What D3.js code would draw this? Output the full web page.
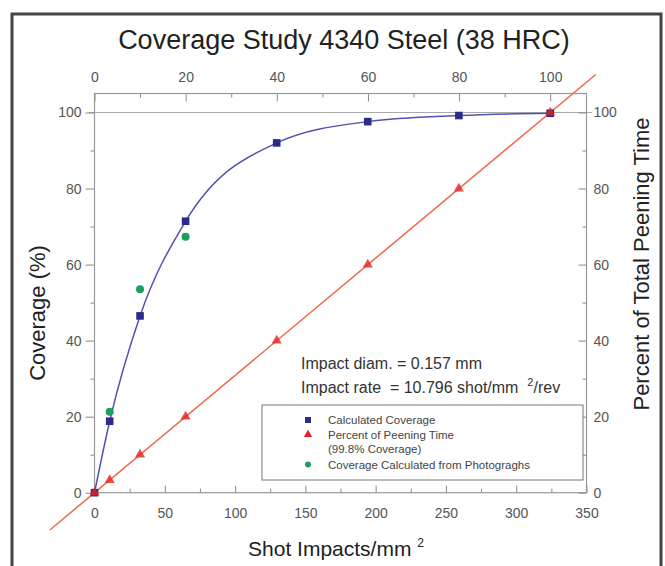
<!DOCTYPE html>
<html>
<head>
<meta charset="utf-8">
<script src="https://cdn.jsdelivr.net/npm/d3@7"></script>
<style>
  body { margin: 0; background: #fff; }
  svg { display: block; font-family: "Liberation Sans", Arial, sans-serif; }
  .tick text { fill: #555; font-size: 14px; }
  .tick line { stroke: #888; }
</style>
</head>
<body>
<svg id="chart" width="665" height="566"></svg>
<script>
// shot impacts per mm^2 at each sampled time
const shots = [0, 10.8, 32.4, 64.8, 129.6, 194.4, 259.2, 324.2];
const calcCoverage = [0, 18.8, 46.5, 71.4, 92.0, 97.6, 99.2, 99.8];
const peeningTime = [0, 3.3, 10, 20, 40, 60, 80, 100];
// coverage measured from photographs
const photoShots = [10.8, 32.4, 64.8];
const photoCoverage = [21.3, 53.5, 67.3];
// extent of the peening time line (percent of total)
const timeLineExtent = [-9.8, 110];

const xTicks = [0, 50, 100, 150, 200, 250, 300, 350];
const xMinor = [25, 75, 125, 175, 225, 275, 325];
const yTicks = [0, 20, 40, 60, 80, 100];
const yMinor = [10, 30, 50, 70, 90];
const topTicks = [0, 20, 40, 60, 80, 100];
const topMinor = [10, 30, 50, 70, 90];

const legendItems = ["Calculated Coverage", "Percent of Peening Time", "(99.8% Coverage)", "Coverage Calculated from Photograghs"];

const svg = d3.select("#chart");
const pLeft = 94.5, pRight = 586.5, pTop = 93.5, pBottom = 492.7;

let x = d3.scaleLinear().domain([0, 350]).range([pLeft, pRight]);
let y = d3.scaleLinear().domain([0, 100]).range([pBottom, 112.5]);
// time axes: 100% time = last shot count
let xTop = d3.scaleLinear().domain([0, 100]).range([x(0), x(shots[shots.length - 1])]);
let yRight = d3.scaleLinear().domain([0, 100]).range([pBottom, 112.5]);

// outer border
svg.append("rect")
  .attr("x", 12).attr("y", 14)
  .attr("width", 649).attr("height", 600)
  .attr("fill", "none")
  .attr("stroke", "#444")
  .attr("stroke-width", 3);

// title
svg.append("text")
  .attr("x", 344).attr("y", 49)
  .attr("text-anchor", "middle")
  .style("font-size", "27px")
  .style("fill", "#222")
  .text("Coverage Study 4340 Steel (38 HRC)");

// 100% reference line
svg.append("line")
  .attr("x1", 89).attr("x2", 592)
  .attr("y1", y(100)).attr("y2", y(100))
  .attr("stroke", "#aaa")
  .attr("stroke-width", 1.2);

// axes
function axis(gen, tx, ty) {
  let g = svg.append("g").attr("transform", `translate(${tx},${ty})`).call(gen);
  g.select(".domain").remove();
  return g;
}
axis(d3.axisBottom(x).tickValues(xTicks).tickSizeInner(-7).tickSizeOuter(0).tickPadding(15), 0, pBottom);
axis(d3.axisBottom(x).tickValues(xMinor).tickSizeInner(-4).tickSizeOuter(0).tickFormat(""), 0, pBottom);
axis(d3.axisLeft(y).tickValues(yTicks).tickSize(9).tickPadding(4), pLeft, 0);
axis(d3.axisLeft(y).tickValues(yMinor).tickSize(4).tickFormat(""), pLeft, 0);
axis(d3.axisRight(yRight).tickValues(yTicks).tickSizeInner(-8).tickSizeOuter(0).tickPadding(7), pRight, 0);
axis(d3.axisRight(yRight).tickValues(yMinor).tickSizeInner(-4).tickSizeOuter(0).tickFormat(""), pRight, 0);
axis(d3.axisTop(xTop).tickValues(topTicks).tickSizeInner(-8).tickSizeOuter(0).tickPadding(12), 0, pTop);
axis(d3.axisTop(xTop).tickValues(topMinor).tickSizeInner(-4).tickSizeOuter(0).tickFormat(""), 0, pTop);

// plot frame
svg.append("rect")
  .attr("x", pLeft).attr("y", pTop)
  .attr("width", pRight - pLeft).attr("height", pBottom - pTop)
  .attr("fill", "none")
  .attr("stroke", "#999")
  .attr("stroke-width", 1.2);

// axis titles
svg.append("text")
  .attr("transform", "translate(45,313) rotate(-90)")
  .attr("text-anchor", "middle")
  .style("font-size", "22px").style("fill", "#222")
  .text("Coverage (%)");

svg.append("text")
  .attr("transform", "translate(649,264) rotate(-90)")
  .attr("text-anchor", "middle")
  .style("font-size", "22px").style("fill", "#222")
  .text("Percent of Total Peening Time");

let xl = svg.append("text")
  .attr("x", 336).attr("y", 556)
  .attr("text-anchor", "middle")
  .style("font-size", "21px").style("fill", "#222");
xl.append("tspan").text("Shot Impacts/mm ");
xl.append("tspan").attr("dy", -9).style("font-size", "12px").text("2");

// peening time line
svg.append("line")
  .attr("x1", xTop(timeLineExtent[0])).attr("y1", yRight(timeLineExtent[0]))
  .attr("x2", xTop(timeLineExtent[1])).attr("y2", yRight(timeLineExtent[1]))
  .attr("stroke", "#ec6a48")
  .attr("stroke-width", 1.5);

// coverage curve
let covData = shots.map((s, i) => [s, calcCoverage[i]]);
svg.append("path")
  .datum(covData)
  .attr("d", d3.line().x(d => x(d[0])).y(d => y(d[1])).curve(d3.curveMonotoneX))
  .attr("fill", "none")
  .attr("stroke", "#5252b0")
  .attr("stroke-width", 1.5);

// markers
svg.selectAll("circle.photo")
  .data(photoShots)
  .enter()
  .append("circle")
  .attr("cx", d => x(d))
  .attr("cy", (d, i) => y(photoCoverage[i]))
  .attr("r", 4)
  .style("fill", "#1f9e5e");

svg.selectAll("rect.calc")
  .data(covData)
  .enter()
  .append("rect")
  .attr("x", d => x(d[0]) - 3.8)
  .attr("y", d => y(d[1]) - 3.8)
  .attr("width", 7.6).attr("height", 7.6)
  .style("fill", "#2b2b8c");

let tri = d3.symbol().type(d3.symbolTriangle).size(44);
svg.selectAll("path.time")
  .data(peeningTime)
  .enter()
  .append("path")
  .attr("d", tri)
  .attr("transform", (d, i) => `translate(${x(shots[i])},${yRight(d)})`)
  .style("fill", "#e32222")
  .style("opacity", 0.8);

// annotations
svg.append("text")
  .attr("x", 301).attr("y", 369)
  .style("font-size", "16px").style("fill", "#333")
  .text("Impact diam. = 0.157 mm");
let rate = svg.append("text")
  .attr("x", 301).attr("y", 393)
  .style("font-size", "16px").style("fill", "#333")
  .attr("xml:space", "preserve");
rate.append("tspan").text("Impact rate  = 10.796 shot/mm  ");
rate.append("tspan").attr("dy", -7).style("font-size", "11px").text("2");
rate.append("tspan").attr("dy", 7).text("/rev");

// legend
let lg = svg.append("g");
lg.append("rect")
  .attr("x", 262).attr("y", 405)
  .attr("width", 321).attr("height", 75)
  .attr("fill", "#fff")
  .attr("stroke", "#777");
let rowsY = [420, 434.5, 449, 464.5];
lg.selectAll("text")
  .data(legendItems)
  .enter()
  .append("text")
  .attr("x", 328)
  .attr("y", (d, i) => rowsY[i] + 4)
  .style("font-size", "11.5px").style("fill", "#444")
  .text(d => d);
lg.append("rect").attr("x", 305).attr("y", rowsY[0] - 3).attr("width", 6).attr("height", 6).style("fill", "#2b2b8c");
lg.append("path").attr("d", d3.symbol().type(d3.symbolTriangle).size(30)).attr("transform", `translate(308,${rowsY[1]})`).style("fill", "#e32222");
lg.append("circle").attr("cx", 308).attr("cy", rowsY[3]).attr("r", 3).style("fill", "#1f9e5e");
</script>
</body>
</html>
